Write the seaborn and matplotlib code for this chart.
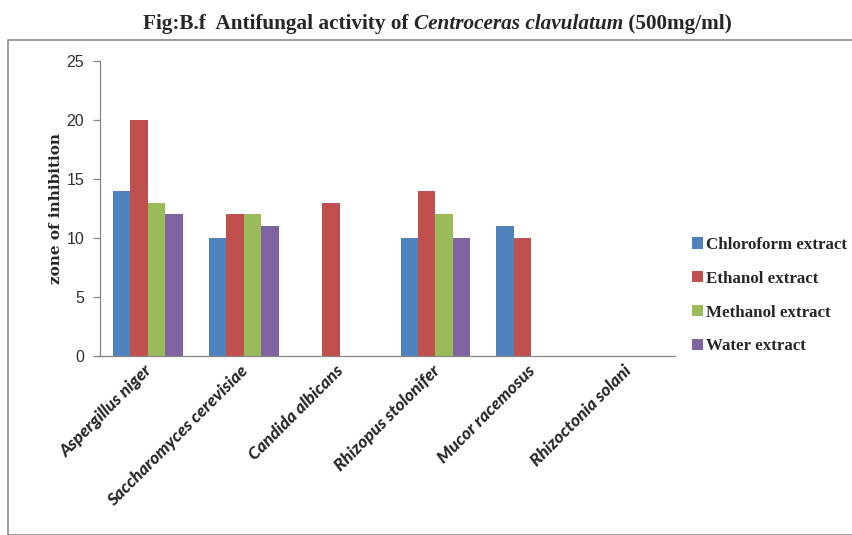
import pandas as pd
import seaborn as sns
import matplotlib.pyplot as plt
from matplotlib.patches import Rectangle
from matplotlib.transforms import offset_copy

# data
organisms = ['Aspergillus niger', 'Saccharomyces cerevisiae', 'Candida albicans',
             'Rhizopus stolonifer', 'Mucor racemosus', 'Rhizoctonia solani']
extracts = ['Chloroform extract', 'Ethanol extract', 'Methanol extract', 'Water extract']
chloroform = [14, 10, 0, 10, 11, 0]
ethanol = [20, 12, 13, 14, 10, 0]
methanol = [13, 12, 0, 12, 0, 0]
water = [12, 11, 0, 10, 0, 0]
colors = ['#4F81BD', '#C0504D', '#9BBB59', '#8064A2']


def main():
    sns.set_theme(style="white")

    rows = []
    for ext, vals in zip(extracts, [chloroform, ethanol, methanol, water]):
        for org, v in zip(organisms, vals):
            rows.append({'Organism': org, 'Extract': ext, 'zone': v})
    df = pd.DataFrame(rows)

    fig = plt.figure(figsize=(8.53, 5.35), dpi=100)
    ax = fig.add_axes([100 / 853, 1 - 355.5 / 535, 575 / 853, 294 / 535])

    # outer chart border
    fig.patches.append(Rectangle((8 / 853, 0), 1.0, 1 - 40 / 535, transform=fig.transFigure,
                                 fill=False, edgecolor='#8c8c8c', linewidth=1.2))

    sns.barplot(data=df, x='Organism', y='zone', hue='Extract', palette=colors,
                saturation=1, width=0.727, gap=0, edgecolor='none', linewidth=0,
                legend=True, ax=ax)

    ax.set_ylim(0, 25)
    ax.set_yticks([0, 5, 10, 15, 20, 25])
    ax.set_xlim(-0.5, 5.5)
    for s in ['top', 'right']:
        ax.spines[s].set_visible(False)
    for s in ['left', 'bottom']:
        ax.spines[s].set_color('#868686')
        ax.spines[s].set_linewidth(0.9)
    ax.tick_params(axis='y', left=True, length=5, width=0.9, color='#868686',
                   labelsize=11.5, labelcolor='#303030', pad=6.5)
    ax.tick_params(axis='x', bottom=False, pad=2)
    for t in ax.get_yticklabels():
        t.set_family('Liberation Sans')
    ax.set_xticks(range(len(organisms)))
    ax.set_xticklabels(organisms, rotation=45, ha='right', rotation_mode='anchor',
                       fontsize=12.5, fontweight='black', fontstyle='italic', family='Lato')
    for t in ax.get_xticklabels():
        t.set_transform(offset_copy(t.get_transform(), fig=fig, x=-4, y=4, units='dots'))

    ax.set_xlabel('')
    ax.set_ylabel('zone of inhibition', fontsize=11, fontweight='bold',
                  family='DejaVu Serif', labelpad=2)

    handles, labels = ax.get_legend_handles_labels()
    ax.get_legend().remove()
    fig.legend(handles, labels, loc='upper left', bbox_to_anchor=(692 / 853, 1 - 237 / 535),
               frameon=False, borderpad=0, borderaxespad=0,
               prop={'family': 'Liberation Serif', 'weight': 'bold', 'size': 12.2},
               handlelength=0.65, handleheight=0.65, handletextpad=0.15, labelspacing=1.05)

    ty = 1 - 24 / 535
    tx = 0.485
    fig.text(tx, ty, 'Fig:B.f  Antifungal activity of ', ha='right', va='center',
             fontsize=15.3, fontweight='bold', family='Liberation Serif')
    t1 = fig.text(tx, ty, 'Centroceras clavulatum', ha='left', va='center',
                  fontsize=15.3, fontweight='bold', fontstyle='italic', family='Liberation Serif')
    fig.canvas.draw()
    bb = t1.get_window_extent()
    fig.text(bb.x1 / fig.bbox.width, ty, ' (500mg/ml)', ha='left', va='center',
             fontsize=15.3, fontweight='bold', family='Liberation Serif')

    fig.savefig('out.png', dpi=100)
    plt.close(fig)


if __name__ == "__main__":
    main()
